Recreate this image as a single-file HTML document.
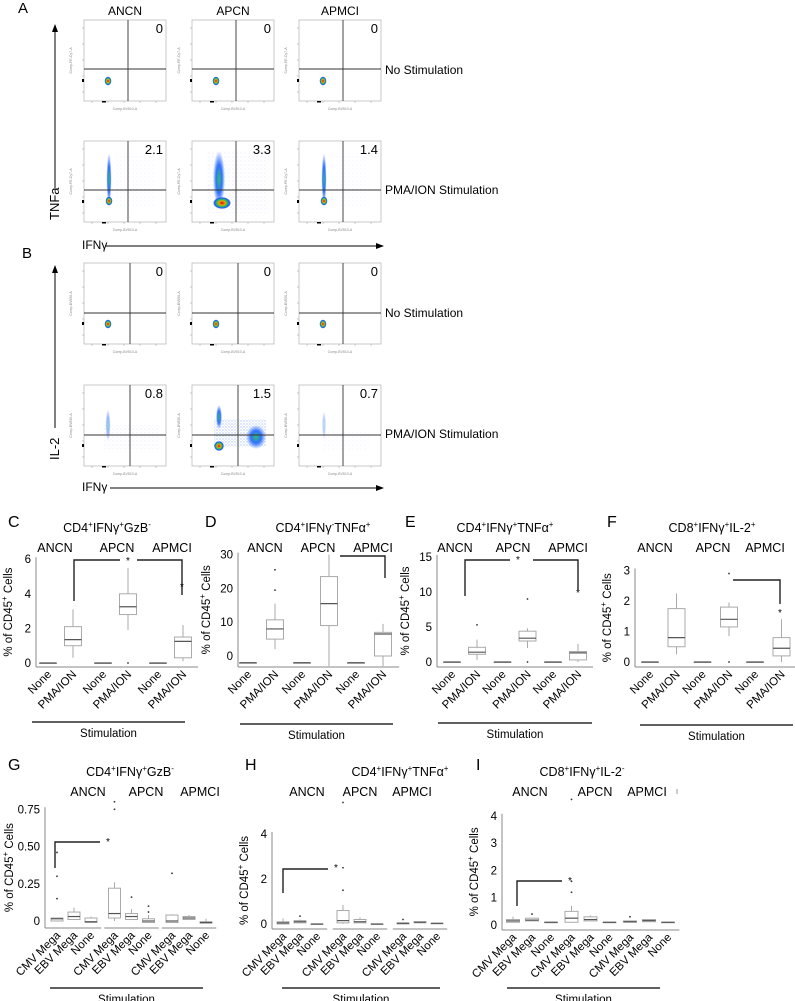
<!DOCTYPE html>
<html><head><meta charset="utf-8">
<style>
body{margin:0;background:#fff;}
svg{display:block;font-family:"Liberation Sans",sans-serif;}
.n{font-family:"Liberation Sans Narrow","Liberation Sans",sans-serif;}
</style></head>
<body>
<svg id="fig" width="795" height="1001" viewBox="0 0 795 1001" xmlns="http://www.w3.org/2000/svg">
<defs>
<radialGradient id="hot" cx="50%" cy="50%" r="50%">
<stop offset="0" stop-color="#e00000"/><stop offset="0.35" stop-color="#f0a000"/><stop offset="0.6" stop-color="#20c060"/><stop offset="0.85" stop-color="#2050ff"/><stop offset="1" stop-color="#2050ff" stop-opacity="0"/>
</radialGradient>
<radialGradient id="cool" cx="50%" cy="50%" r="50%">
<stop offset="0" stop-color="#30c070"/><stop offset="0.5" stop-color="#3070ff"/><stop offset="1" stop-color="#3070ff" stop-opacity="0"/>
</radialGradient>
<pattern id="dots" width="4" height="4" patternUnits="userSpaceOnUse"><circle cx="1" cy="1" r="0.5" fill="#4060ff" opacity="0.45"/><circle cx="3" cy="3" r="0.4" fill="#6080ff" opacity="0.3"/></pattern>
<pattern id="dotsD" width="3" height="3" patternUnits="userSpaceOnUse"><circle cx="1" cy="1" r="0.7" fill="#3050ff" opacity="0.6"/><circle cx="2.5" cy="2.3" r="0.5" fill="#30b0a0" opacity="0.45"/></pattern>
<marker id="arr" markerWidth="8" markerHeight="8" refX="7" refY="4" orient="auto"><path d="M0,1 L8,4 L0,7 Z" fill="#000"/></marker>
</defs>
<g id="flow"></g>
<g id="boxes"></g>
</svg>
<script>
const NS="http://www.w3.org/2000/svg";
const svg=document.getElementById('fig');
const flowG=document.getElementById('flow');
const boxG=document.getElementById('boxes');
function mk(tag,attrs,parent,txt){const e=document.createElementNS(NS,tag);for(const k in attrs)e.setAttribute(k,attrs[k]);if(txt!==undefined)e.textContent=txt;(parent||svg).appendChild(e);return e;}

/* ---------- Flow cytometry panels ---------- */
const flowCols=["ANCN","APCN","APMCI"];
const flowColX=[84,192,299];
const flowA_vals=[["0","0","0"],["2.1","3.3","1.4"]];
const flowB_vals=[["0","0","0"],["0.8","1.5","0.7"]];
const flowRowsA=[20,141];
const flowRowsB=[263,385];
const flowRowLabels=["No Stimulation","PMA/ION Stimulation"];

function label(x,y,t,size,name,anchor,extra){const e=mk('text',Object.assign({x:x,y:y,'font-size':size,'text-anchor':anchor||'start',fill:'#000'},extra||{}),flowG,t);return e;}

label(18,13,"A",15,"panel-a-label");
label(22,258,"B",15,"panel-b-label");
flowCols.forEach((c,i)=>{label(flowColX[i]+41,15,c,12,"column-header-"+c.toLowerCase(),"middle");});

function flowPlot(px,py,ci,ri,panel,val){
  const g=mk('g',{},flowG);
  
  
  const w=82,h=81;
  mk('rect',{x:px,y:py,width:w,height:h,fill:'#fff',stroke:'#bbb','stroke-width':0.8},g);
  const vx=px+(panel==='a'?44:(ci===2?44:46)), hy=py+(panel==='a'?49:50);
  if(ri===0){
    mk('ellipse',{cx:px+24,cy:py+61,rx:3.5,ry:4.5,fill:'url(#hot)'},g);
  } else if(panel==='a'){
    if(ci===1){
      mk('rect',{x:px+15,y:py+10,width:62,height:62,fill:'url(#dots)',opacity:0.6},g);
      mk('ellipse',{cx:px+27,cy:py+38,rx:6,ry:28,fill:'url(#cool)'},g);
      mk('ellipse',{cx:px+30,cy:py+62,rx:9,ry:6,fill:'url(#hot)'},g);
    } else {
      mk('rect',{x:px+30,y:py+12,width:40,height:55,fill:'url(#dots)',opacity:0.3},g);
      mk('ellipse',{cx:px+25,cy:py+38,rx:2.5,ry:26,fill:'url(#cool)'},g);
      mk('ellipse',{cx:px+25,cy:py+60,rx:3.5,ry:4.5,fill:'url(#hot)'},g);
    }
  } else {
    if(ci===1){
      mk('rect',{x:px+22,y:py+34,width:52,height:28,fill:'url(#dotsD)',opacity:0.6},g);
      mk('ellipse',{cx:px+27,cy:py+32,rx:3,ry:12,fill:'url(#cool)'},g);
      mk('ellipse',{cx:px+64,cy:py+52,rx:10,ry:12,fill:'url(#cool)'},g);
      mk('ellipse',{cx:px+27,cy:py+61,rx:5,ry:5,fill:'url(#hot)'},g);
    } else if(ci===0){
      mk('rect',{x:px+20,y:py+40,width:56,height:24,fill:'url(#dots)',opacity:0.6},g);
      mk('ellipse',{cx:px+24,cy:py+40,rx:2.5,ry:16,fill:'url(#cool)',opacity:0.5},g);
    } else {
      mk('rect',{x:px+25,y:py+45,width:45,height:20,fill:'url(#dots)',opacity:0.35},g);
      mk('ellipse',{cx:px+25,cy:py+40,rx:2,ry:14,fill:'url(#cool)',opacity:0.35},g);
    }
  }
  mk('line',{x1:vx,y1:py,x2:vx,y2:py+h,stroke:'#333','stroke-width':0.9},g);
  mk('line',{x1:px,y1:hy,x2:px+w,y2:hy,stroke:'#333','stroke-width':0.9},g);
  const t=mk('text',{x:px+w-3,y:py+13,'font-size':13,'text-anchor':'end'},g,val);
  
  mk('text',{x:px+w/2,y:py+h+9,'font-size':3.5,'text-anchor':'middle',fill:'#888'},g,'Comp-BV510-A');
  mk('text',{x:px-12,y:py+h/2,'font-size':3.5,'text-anchor':'middle',fill:'#888',transform:`rotate(-90 ${px-12} ${py+h/2})`},g,panel==='a'?'Comp-PE-Cy7-A':'Comp-BV650-A');
  for(let k=0;k<5;k++){mk('line',{x1:px-2,y1:py+8+k*16,x2:px,y2:py+8+k*16,stroke:'#999','stroke-width':0.5},g);
    mk('line',{x1:px+8+k*16,y1:py+h,x2:px+8+k*16,y2:py+h+2,stroke:'#999','stroke-width':0.5},g);}
  mk('rect',{x:px-2,y:py+59,width:2,height:3,fill:'#000'},g);
  mk('rect',{x:px+18,y:py+h,width:4,height:1.5,fill:'#000'},g);
}
[0,1].forEach(ri=>flowColX.forEach((x,ci)=>flowPlot(x,flowRowsA[ri],ci,ri,'a',flowA_vals[ri][ci])));
[0,1].forEach(ri=>flowColX.forEach((x,ci)=>flowPlot(x,flowRowsB[ri],ci,ri,'b',flowB_vals[ri][ci])));
label(385,74,flowRowLabels[0],12,"row-label-no-stimulation-a");
label(385,194,flowRowLabels[1],12,"row-label-pma-ion-a");
label(385,317,flowRowLabels[0],12,"row-label-no-stimulation-b");
label(385,438,flowRowLabels[1],12,"row-label-pma-ion-b");
const arrs=[[55,188,55,25,'tnfa-axis-arrow'],[106,246,383,246,'ifng-axis-arrow-a'],[55,428,55,266,'il2-axis-arrow'],[110,488,383,488,'ifng-axis-arrow-b']];
arrs.forEach(a=>{const l=mk('line',{x1:a[0],y1:a[1],x2:a[2],y2:a[3],stroke:'#000','stroke-width':1,'marker-end':'url(#arr)'},flowG);});
label(59,220,"TNFa",13,"tnfa-axis-title","start",{transform:"rotate(-90 59 220)"});
label(82,249,"IFNγ",12,"ifng-axis-title-a");
label(59,460,"IL-2",13,"il2-axis-title","start",{transform:"rotate(-90 59 460)"});
label(82,491,"IFNγ",12,"ifng-axis-title-b");

/* ---------- Box plot data ---------- */
const groups=["ANCN","APCN","APMCI"];
const cCats=["None","PMA/ION","None","PMA/ION","None","PMA/ION"];
const cLow=[0,0.3,0,1.9,0,0.1];
const cQ1=[0,1.0,0,2.8,0,0.3];
const cMed=[0,1.35,0,3.25,0,1.25];
const cQ3=[0,2.1,0,4.0,0,1.5];
const cHigh=[0,3.1,0,5.5,0,2.2];
const cOut=[[],[],[],[0],[],[]];
const cTicks=[0,2,4,6];

const dCats=cCats;
const dLow=[-2,2,-2,-3,-2,-3];
const dQ1=[-2,5,-2,9,-2,0];
const dMed=[-2,8,-2,15.5,-2,6.5];
const dQ3=[-2,10.7,-2,23.5,-2,7];
const dHigh=[-2,15.5,-2,30,-2,9.5];
const dOut=[[],[19.5,25.5],[],[],[],[]];
const dTicks=[0,10,20,30];

const eCats=cCats;
const eLow=[0,0.3,0,2,0,0];
const eQ1=[0,1.1,0,3,0,0.3];
const eMed=[0,1.4,0,3.4,0,1.3];
const eQ3=[0,2.1,0,4.4,0,1.5];
const eHigh=[0,3.2,0,4.8,0,2.6];
const eOut=[[],[5.3],[],[9,0],[],[]];
const eTicks=[0,5,10,15];

const fCats=cCats;
const fLow=[0,0.25,0,0.85,0,0];
const fQ1=[0,0.5,0,1.15,0,0.2];
const fMed=[0,0.8,0,1.4,0,0.45];
const fQ3=[0,1.75,0,1.8,0,0.8];
const fHigh=[0,2.25,0,1.95,0,1.4];
const fOut=[[],[],[],[2.9,0],[],[]];
const fTicks=[0,1,2,3];

const gCats=["CMV Mega","EBV Mega","None","CMV Mega","EBV Mega","None","CMV Mega","EBV Mega","None"];
const gLow=[0,0.01,-0.01,0,0.01,-0.01,-0.01,0.01,-0.015];
const gQ1=[0,0.01,-0.01,0.02,0.01,-0.01,-0.01,0.01,-0.015];
const gMed=[0.015,0.03,-0.005,0.05,0.03,0,0,0.02,-0.01];
const gQ3=[0.02,0.06,0.02,0.22,0.05,0.015,0.04,0.03,-0.005];
const gHigh=[0.02,0.09,0.03,0.26,0.08,0.04,0.045,0.04,0.015];
const gOut=[[0.15,0.3,0.46],[],[],[0.75,0.8],[0.16],[0.06,0.1],[0.32],[],[]];
const gTicks=[0,0.25,0.5,0.75];
const gTickLabels=["0","0.25","0.50","0.75"];

const hCats=gCats;
const hLow=[0,0.05,0,0,0.05,0,0,0.05,0.03];
const hQ1=[0,0.05,0,0.05,0.05,0,0,0.05,0.03];
const hMed=[0.05,0.1,0,0.15,0.1,0,0.03,0.08,0.03];
const hQ3=[0.1,0.15,0,0.6,0.2,0,0.05,0.1,0.03];
const hHigh=[0.25,0.2,0,0.85,0.3,0,0.05,0.12,0.03];
const hOut=[[],[0.35],[],[1.5,2.5,5.4],[],[],[0.2],[],[]];
const hTicks=[0,2,4];

const iCats=gCats;
const iLow=[0.1,0.15,0.1,0.1,0.15,0.1,0.1,0.12,0.1];
const iQ1=[0.1,0.15,0.1,0.1,0.15,0.1,0.1,0.12,0.1];
const iMed=[0.15,0.18,0.1,0.25,0.2,0.1,0.12,0.16,0.1];
const iQ3=[0.2,0.25,0.1,0.5,0.3,0.1,0.15,0.2,0.1];
const iHigh=[0.3,0.25,0.1,0.7,0.35,0.1,0.15,0.2,0.1];
const iOut=[[],[0.4],[],[1.2,1.6,4.6],[],[],[0.3],[],[]];
const iTicks=[0,1,2,3,4];

/* ---------- Box plot drawing ---------- */
function boxPanel(cfg){
  const g=mk('g',{},boxG);
  
  
  const yS=v=>cfg.y0-v*cfg.k;
  const n=cfg.cats.length, per=n/3;
  const xS=i=>cfg.xs+Math.floor(i/per)*cfg.gs+(i%per)*cfg.st;
  let t=mk('text',{x:cfg.lx,y:cfg.ly,'font-size':16},g,cfg.id.toUpperCase());
  
  t=mk('text',{x:cfg.tx,y:cfg.ty,'font-size':12.5,'text-anchor':'middle'},g);
  
  let sup=false;
  cfg.title.forEach(p=>{
    const isSup=p[1]===1;
    const a={};
    if(isSup){a['font-size']=8;a.dy=sup?0:-5;} else {a['font-size']=12.5;a.dy=sup?5:0;}
    sup=isSup;
    mk('tspan',a,t,p[0]);
  });
  groups.forEach((gn,j)=>{const e=mk('text',{x:cfg.gx[j],y:cfg.ty+20,'font-size':12.5,'text-anchor':'middle',class:'n'},g,gn);
    });
  const top=yS(cfg.ticks[cfg.ticks.length-1])-2;
  mk('line',{x1:cfg.ax,y1:top,x2:cfg.ax,y2:cfg.by,stroke:'#888','stroke-width':1},g);
  cfg.ticks.forEach((v,j)=>{const e=mk('text',{x:cfg.ax-5,y:yS(v)+4,'font-size':11.5,'text-anchor':'end'},g,cfg.tl?cfg.tl[j]:String(v));
    });
  const ylx=cfg.ax-(cfg.ylOff||24), yly=(top+cfg.by)/2;
  t=mk('text',{x:ylx,y:yly,'font-size':11.5,'text-anchor':'middle',transform:`rotate(-90 ${ylx} ${yly})`},g);
  
  mk('tspan',{},t,'% of CD45');mk('tspan',{'font-size':8,dy:-5},t,'+');mk('tspan',{dy:5},t,' Cells');
  for(let j=0;j<3;j++){const a=xS(j*per)-cfg.st*0.6, b=xS(j*per+per-1)+cfg.st*0.6;
    mk('line',{x1:j===0?cfg.ax:a,y1:cfg.by,x2:b,y2:cfg.by,stroke:'#888','stroke-width':1},g);}
  for(let i=0;i<n;i++){
    const cx=xS(i), w=cfg.bw;
    const b=mk('g',{},g);
    
    
    mk('line',{x1:cx,y1:yS(cfg.hi[i]),x2:cx,y2:yS(cfg.q3[i]),stroke:'#aaa','stroke-width':1},b);
    mk('line',{x1:cx,y1:yS(cfg.lo[i]),x2:cx,y2:yS(cfg.q1[i]),stroke:'#aaa','stroke-width':1},b);
    mk('rect',{x:cx-w/2,y:yS(cfg.q3[i]),width:w,height:Math.max(0.5,yS(cfg.q1[i])-yS(cfg.q3[i])),fill:'#fff',stroke:'#aaa','stroke-width':1},b);
    mk('line',{x1:cx-w/2,y1:yS(cfg.med[i]),x2:cx+w/2,y2:yS(cfg.med[i]),stroke:'#555','stroke-width':1.2},b);
    cfg.out[i].forEach(v=>mk('circle',{cx:cx,cy:yS(v),r:0.9,fill:'#333'},b));
    const lx=cx+4, ly=cfg.by+8;
    const e=mk('text',{x:lx,y:ly,'font-size':11.5,'text-anchor':'end',transform:`rotate(-45 ${lx} ${ly})`},g,cfg.cats[i]);
    
  }
  const sl=mk('line',{x1:cfg.sx1,y1:cfg.sy,x2:cfg.sx2,y2:cfg.sy,stroke:'#000','stroke-width':1.3},g);
  
  t=mk('text',{x:(cfg.sx1+cfg.sx2)/2,y:cfg.sy+15,'font-size':11.5,'text-anchor':'middle'},g,'Stimulation');
  
  cfg.sig.forEach(p=>{const e=mk('polyline',{points:p,fill:'none',stroke:'#222','stroke-width':1.4},g);});
  cfg.stars.forEach(s=>{const e=mk('text',{x:s[0],y:s[1]+5,'font-size':10,'text-anchor':'middle'},g,'*');});
}
const titleGzb=[["CD4"],["+",1],["IFNγ"],["+",1],["GzB"],["-",1]];
boxPanel({id:'c',cats:cCats,lo:cLow,q1:cQ1,med:cMed,q3:cQ3,hi:cHigh,out:cOut,ticks:cTicks,y0:663,k:17.3,xs:48,st:25,gs:55,bw:17,ax:36,by:667,
 lx:8,ly:527,tx:107,ty:532,gx:[55,117,172],title:titleGzb,sx1:32,sx2:185,sy:722,
 sig:["74,601 74,560 120,560","137,560 182,560 182,595"],stars:[[128,559],[182,585]]});
boxPanel({id:'d',cats:dCats,lo:dLow,q1:dQ1,med:dMed,q3:dQ3,hi:dHigh,out:dOut,ticks:dTicks,y0:656,k:3.38,xs:248,st:27,gs:54,bw:17,ax:238,by:667,ylOff:28,
 lx:205,ly:527,tx:323,ty:532,gx:[265,318,373],title:[["CD4"],["+",1],["IFNγ"],["-",1],["TNFα"],["+",1]],sx1:240,sx2:393,sy:724,
 sig:["340,556 385,556 385,578"],stars:[]});
boxPanel({id:'e',cats:eCats,lo:eLow,q1:eQ1,med:eMed,q3:eQ3,hi:eHigh,out:eOut,ticks:eTicks,y0:662,k:7,xs:452,st:25,gs:50.5,bw:17,ax:437,by:667,ylOff:28,
 lx:405,ly:527,tx:505,ty:532,gx:[455,513,568],title:[["CD4"],["+",1],["IFNγ"],["+",1],["TNFα"],["+",1]],sx1:438,sx2:592,sy:723,
 sig:["465,596 465,560 510,560","533,560 578,560 578,590"],stars:[[518,558],[578,591]]});
boxPanel({id:'f',cats:fCats,lo:fLow,q1:fQ1,med:fMed,q3:fQ3,hi:fHigh,out:fOut,ticks:fTicks,y0:662,k:30.5,xs:650,st:26.5,gs:52.5,bw:17,ax:635,by:667,
 lx:607,ly:527,tx:712,ty:532,gx:[655,713,765],title:[["CD8"],["+",1],["IFNγ"],["+",1],["IL-2"],["+",1]],sx1:640,sx2:793,sy:725,
 sig:["733,580 780,580 780,604"],stars:[[780,611]]});
boxPanel({id:'g',cats:gCats,lo:gLow,q1:gQ1,med:gMed,q3:gQ3,hi:gHigh,out:gOut,ticks:gTicks,tl:gTickLabels,y0:921,k:149,xs:57,st:17,gs:57.5,bw:12,ax:45,by:928,ylOff:32,
 lx:8,ly:770,tx:130,ty:776,gx:[88,146,200],title:titleGzb,sx1:50,sx2:203,sy:988,
 sig:["55,868 55,842 100,842"],stars:[[108,840]]});
boxPanel({id:'h',cats:hCats,lo:hLow,q1:hQ1,med:hMed,q3:hQ3,hi:hHigh,out:hOut,ticks:hTicks,y0:924,k:22.5,xs:283,st:17,gs:60,bw:12,ax:272,by:929,
 lx:245,ly:770,tx:400,ty:776,gx:[307,360,412],title:[["CD4"],["+",1],["IFNγ"],["+",1],["TNFα"],["+",1]],sx1:282,sx2:440,sy:988,
 sig:["283,893 283,869 328,869"],stars:[[336,866]]});
boxPanel({id:'i',cats:iCats,lo:iLow,q1:iQ1,med:iMed,q3:iQ3,hi:iHigh,out:iOut,ticks:iTicks,y0:925,k:27.3,xs:513,st:19,gs:58.5,bw:13,ax:502,by:930,
 lx:476,ly:770,tx:582,ty:776,gx:[530,595,647],title:[["CD8"],["+",1],["IFNγ"],["+",1],["IL-2"],["-",1]],sx1:507,sx2:660,sy:988,
 sig:["517,906 517,881 562,881"],stars:[[570,879]]});
const gm=mk('rect',{x:676,y:789,width:2,height:5,fill:'#ccc'},boxG);

</script>
</body></html>
